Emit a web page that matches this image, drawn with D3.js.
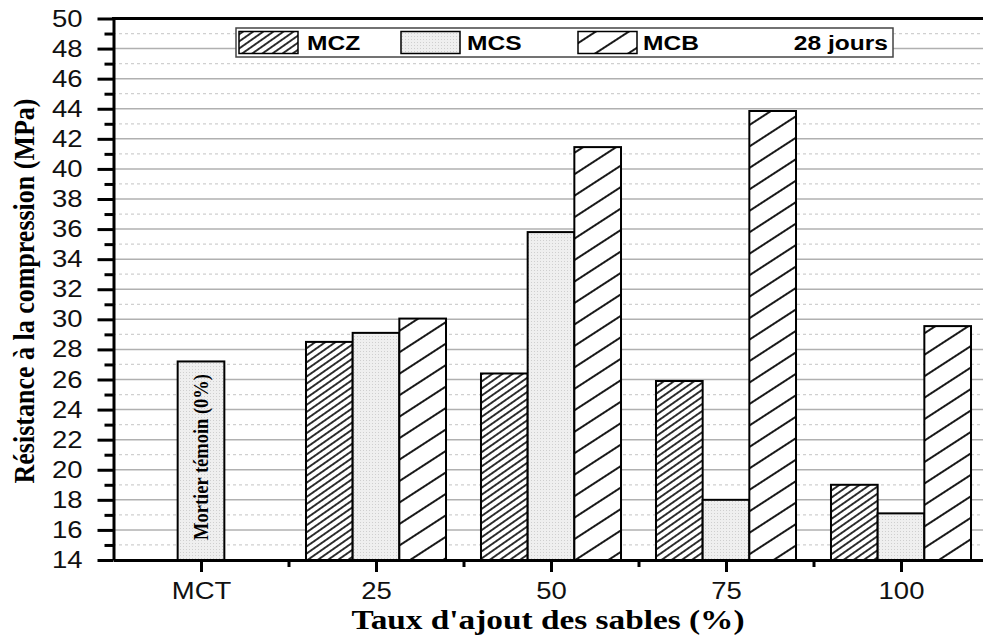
<!DOCTYPE html>
<html>
<head>
<meta charset="utf-8">
<script src="https://cdn.jsdelivr.net/npm/d3@7"></script>
<style>
  body { margin: 0; background: #fff; }
  svg { display: block; }
</style>
</head>
<body>
<script>
// values (MPa, 28 days)
let categories = ["MCT", "25", "50", "75", "100"];
let mctValue = [27.2];
let mcz = [28.5, 26.4, 25.9, 19.0];
let mcs = [29.1, 35.8, 18.0, 17.1];
let mcb = [30.05, 41.45, 43.85, 29.55];
let yTicks = d3.range(14, 51, 2);
let yMinor = d3.range(15, 50, 2);

let width = 983, height = 637;
let sx = 1.17; // text in the figure is a little wider than tall
let svg = d3.select("body").append("svg")
    .attr("width", width)
    .attr("height", height);

let y = d3.scaleLinear().domain([14, 50]).range([560, 18.5]);
let x = d3.scaleLinear().domain([-0.5, 4.5]).range([113.5, 988.5]);
let barW = x(0.2667) - x(0);

// patterns
let defs = svg.append("defs");
let hatch = function(id, size, angle, sw) {
  let p = defs.append("pattern")
      .attr("id", id)
      .attr("patternUnits", "userSpaceOnUse")
      .attr("width", size).attr("height", size)
      .attr("patternTransform", "rotate(" + angle + ")");
  p.append("rect").attr("width", size).attr("height", size).attr("fill", "#fff");
  p.append("line")
      .attr("x1", size / 2).attr("y1", 0).attr("x2", size / 2).attr("y2", size)
      .attr("stroke", "#000").attr("stroke-width", sw);
};
hatch("hz", 5.8, 55, 1.6);
hatch("hb", 18, 57, 1.8);
let st = defs.append("pattern")
    .attr("id", "hs")
    .attr("patternUnits", "userSpaceOnUse")
    .attr("width", 3).attr("height", 3);
st.append("rect").attr("width", 3).attr("height", 3).attr("fill", "#efefef");
st.append("rect").attr("width", 1).attr("height", 1).attr("fill", "#cfcfcf");

// grid
svg.append("g").selectAll("line")
    .data(yTicks.filter(d => d > 14 && d < 50))
    .enter().append("line")
    .attr("x1", 113).attr("x2", width)
    .attr("y1", d => y(d)).attr("y2", d => y(d))
    .attr("stroke", "#b0b0b0").attr("stroke-width", 1.5);
svg.append("g").selectAll("line")
    .data(yMinor)
    .enter().append("line")
    .attr("x1", 113).attr("x2", width)
    .attr("y1", d => y(d)).attr("y2", d => y(d))
    .attr("stroke", "#d0d0d0").attr("stroke-width", 1.2)
    .attr("stroke-dasharray", "3,3");

// bars
let bars = svg.append("g").attr("stroke", "#000").attr("stroke-width", 2);
bars.selectAll(".mct")
    .data(mctValue)
    .enter().append("rect")
    .attr("x", x(0) - barW / 2)
    .attr("y", d => y(d))
    .attr("width", barW)
    .attr("height", d => y(14) - y(d))
    .attr("fill", "url(#hs)");

let series = [
  {vals: mcz, off: -1, fill: "url(#hz)"},
  {vals: mcs, off: 0, fill: "url(#hs)"},
  {vals: mcb, off: 1, fill: "url(#hb)"}
];
series.forEach(function(s) {
  bars.append("g").selectAll("rect")
      .data(s.vals)
      .enter().append("rect")
      .attr("x", (d, i) => x(i + 1) - barW / 2 + s.off * barW)
      .attr("y", d => y(d))
      .attr("width", barW)
      .attr("height", d => y(14) - y(d))
      .attr("fill", s.fill);
});

svg.append("text")
    .attr("transform", "translate(" + (x(0) + 7) + ",540) scale(" + sx + ",1) rotate(-90)")
    .attr("font-family", "Liberation Serif")
    .attr("font-weight", "bold")
    .attr("font-size", 18.5)
    .text("Mortier témoin (0%)");

// axes
svg.append("g")
    .attr("class", "yax")
    .attr("transform", "translate(113.5,0)")
    .call(d3.axisLeft(y).tickValues(yTicks).tickSize(16).tickSizeOuter(0).tickPadding(14));
svg.append("g")
    .attr("transform", "translate(113.5,0)")
    .call(d3.axisLeft(y).tickValues(yMinor).tickSize(9).tickFormat(""))
    .select(".domain").remove();

svg.append("g")
    .attr("class", "xax")
    .attr("transform", "translate(0,560)")
    .call(d3.axisBottom(x).tickValues(d3.range(0, 5)).tickSize(12).tickSizeOuter(0)
      .tickPadding(10).tickFormat(i => categories[i]));
svg.append("g")
    .attr("transform", "translate(0,560)")
    .call(d3.axisBottom(x).tickValues([0.5, 1.5, 2.5, 3.5]).tickSize(7).tickFormat(""))
    .select(".domain").remove();

svg.selectAll(".tick line").attr("stroke", "#000").attr("stroke-width", 3);
svg.selectAll(".domain").attr("stroke", "#000").attr("stroke-width", 3);
svg.selectAll(".tick text")
    .attr("font-family", "Liberation Sans")
    .attr("font-size", 23.5)
    .attr("fill", "#111")
    .attr("transform", "scale(" + sx + ",1)");
svg.selectAll(".yax .tick text").attr("x", -31 / sx);

// top frame line
svg.append("line")
    .attr("x1", 112).attr("x2", width)
    .attr("y1", 18.5).attr("y2", 18.5)
    .attr("stroke", "#000").attr("stroke-width", 3);

// titles
svg.append("text")
    .attr("transform", "translate(548,629) scale(1.19,1)")
    .attr("text-anchor", "middle")
    .attr("font-family", "Liberation Serif")
    .attr("font-weight", "bold")
    .attr("font-size", 28)
    .text("Taux d'ajout des sables (%)");
svg.append("text")
    .attr("transform", "translate(34,291) scale(" + sx + ",1) rotate(-90)")
    .attr("text-anchor", "middle")
    .attr("font-family", "Liberation Serif")
    .attr("font-weight", "bold")
    .attr("font-size", 26)
    .text("Résistance à la compression (MPa)");

// legend
let leg = svg.append("g");
leg.append("rect")
    .attr("x", 236).attr("y", 28).attr("width", 657).attr("height", 29)
    .attr("fill", "#fff").attr("stroke", "#444").attr("stroke-width", 1.5);
let legItems = [
  {name: "MCZ", fill: "url(#hz)", px: 239, tx: 307},
  {name: "MCS", fill: "url(#hs)", px: 401, tx: 467},
  {name: "MCB", fill: "url(#hb)", px: 578, tx: 643}
];
leg.selectAll(".patch")
    .data(legItems)
    .enter().append("rect")
    .attr("x", d => d.px).attr("y", 31.5)
    .attr("width", 59).attr("height", 22)
    .attr("fill", d => d.fill)
    .attr("stroke", "#000").attr("stroke-width", 1.5);
leg.selectAll(".lab")
    .data(legItems)
    .enter().append("text")
    .attr("transform", d => "translate(" + d.tx + ",50) scale(" + sx + ",1)")
    .attr("font-family", "Liberation Sans")
    .attr("font-weight", "bold")
    .attr("font-size", 21)
    .text(d => d.name);
leg.append("text")
    .attr("transform", "translate(888,50) scale(" + sx + ",1)")
    .attr("text-anchor", "end")
    .attr("font-family", "Liberation Sans")
    .attr("font-weight", "bold")
    .attr("font-size", 21)
    .text("28 jours");
</script>
</body>
</html>
